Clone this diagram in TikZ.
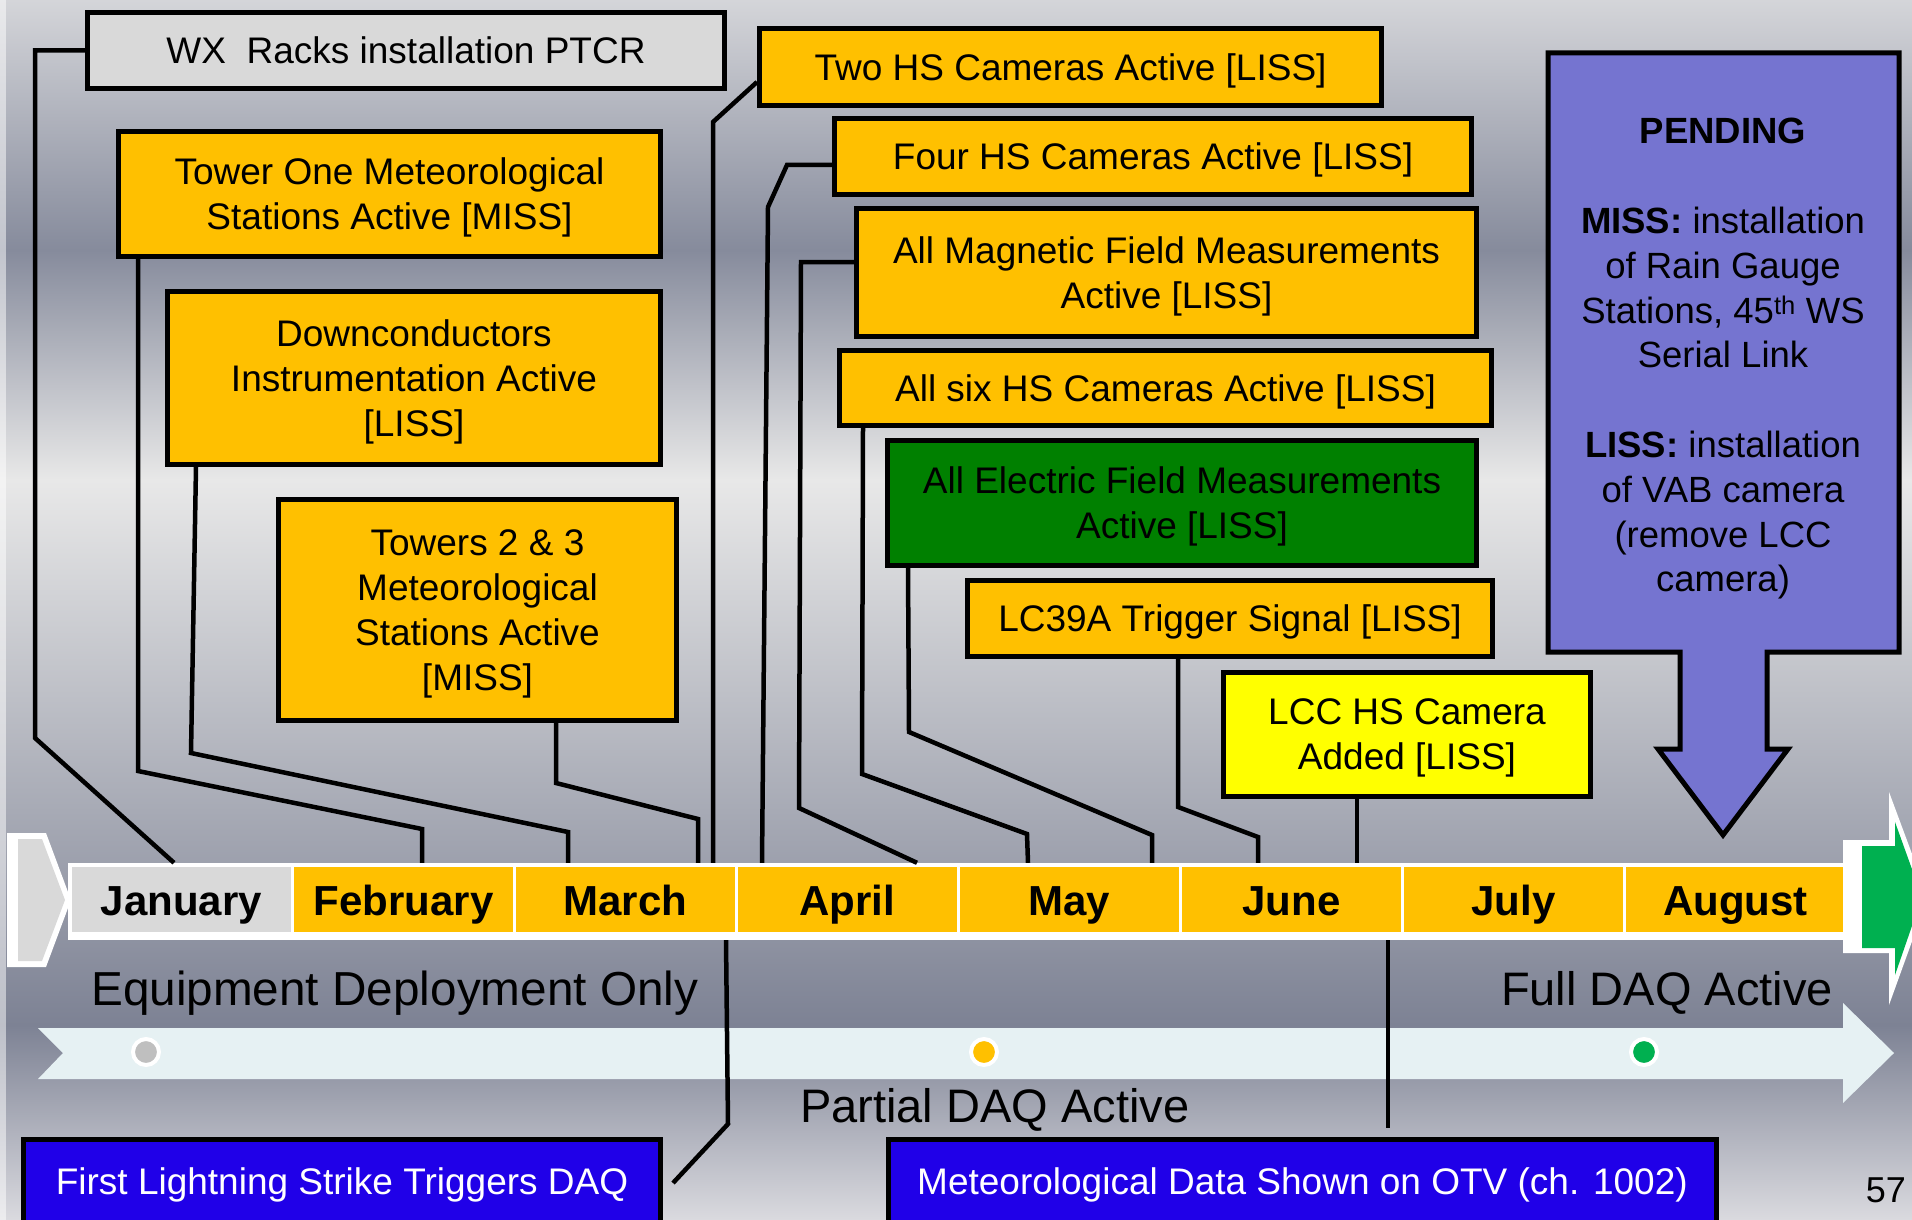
\documentclass[tikz,border=0pt]{standalone}
\usepackage{fontspec}
\setmainfont{Liberation Sans}
\usetikzlibrary{positioning,calc}
\definecolor{msorange}{RGB}{255,192,0}
\definecolor{msgray}{RGB}{217,217,217}
\definecolor{msdotgray}{RGB}{191,191,191}
\definecolor{msgreen}{RGB}{0,128,0}
\definecolor{msyellow}{RGB}{255,255,0}
\definecolor{mspurple}{RGB}{117,116,208}
\definecolor{msblue}{RGB}{32,0,232}
\definecolor{msband}{RGB}{230,241,243}
\definecolor{msdot}{RGB}{0,176,80}
\definecolor{bga}{RGB}{212,213,217}
\definecolor{bgb}{RGB}{134,139,156}
\definecolor{bgc}{RGB}{232,232,232}
\definecolor{bgd}{RGB}{125,130,148}
\definecolor{bge}{RGB}{218,218,223}
\tikzset{
  evt/.style={draw=black, line width=5pt, fill=msorange, align=center,
              inner sep=0pt, text depth=0pt, font=\fontsize{37}{45}\selectfont},
  mon/.style={minimum width=219pt, minimum height=65pt, inner sep=0pt,
              text height=31pt, text depth=0pt, font=\fontsize{42}{50}\selectfont\bfseries},
  conn/.style={black, line width=4.5pt},
  lbl/.style={inner sep=0pt, font=\fontsize{47}{56}\selectfont},
  dqdot/.style={circle, draw=white, line width=4pt, minimum size=26pt, inner sep=0pt},
}

\begin{document}
\begin{tikzpicture}[x=1pt, y=-1pt]
    \useasboundingbox (0,0) rectangle (1912,1220);
    \clip (0,0) rectangle (1912,1220);
    % background
    \shade[top color=bga, bottom color=bgb] (0,0) rectangle (1912,250);
    \shade[top color=bgb, bottom color=bgc] (0,250) rectangle (1912,480);
    \shade[top color=bgc, bottom color=bgd] (0,480) rectangle (1912,1025);
    \shade[top color=bgd, bottom color=bge] (0,1025) rectangle (1912,1220);
    \fill[white, opacity=0.5] (0,0) rectangle (6,1220);
    % left chevron
    \fill[white] (7,833) -- (46,833) -- (71,900) -- (46,967) -- (7,967) -- cycle;
    \fill[msgray] (18,839) -- (42,839) -- (65,900) -- (42,961) -- (18,961) -- cycle;
    % timeline band and phases
    \fill[msband] (38,1028) -- (1843,1028) -- (1843,1003) -- (1894,1053)
      -- (1843,1103) -- (1843,1079) -- (38,1079) -- (63,1053) -- cycle;
    \node[dqdot, fill=msdotgray] (ph1) at (146,1052) {};
    \node[dqdot, fill=msorange] (ph2) at (984,1052) {};
    \node[dqdot, fill=msdot] (ph3) at (1644,1052) {};
    \node[lbl, anchor=base west, font=\fontsize{47.7}{56}\selectfont] (eqdep) at (91,1005) {Equipment Deployment Only};
    \node[lbl, anchor=base west] (pdaq) at (800,1122) {Partial DAQ Active};
    \node[lbl, anchor=base east] (fdaq) at (1833,1005) {Full DAQ Active};
    % month bar
    \node[fill=white, minimum width=1780pt, minimum height=77pt, inner sep=0pt] (mbar) at (958,901.5) {};
    \foreach \m/\c [count=\i from 0] in {January/msgray, February/msorange, March/msorange,
        April/msorange, May/msorange, June/msorange, July/msorange, August/msorange}
      \node[mon, fill=\c] (m\i) at (181.5+222*\i, 899.5) {\m};
    % right arrow
    \fill[white] (1843,840) -- (1889,840) -- (1889,792) -- (1928,897)
      -- (1889,1005) -- (1889,953) -- (1843,953) -- cycle;
    \fill[msdot] (1862,846) -- (1895,846) -- (1895,822) -- (1922,897)
      -- (1895,975) -- (1895,948) -- (1862,948) -- cycle;
    % pending callout
    \draw[line width=5pt, fill=mspurple] (1548,53) -- (1899,53) -- (1899,652) -- (1767,652)
      -- (1767,749) -- (1788,749) -- (1723,835) -- (1658,749) -- (1680,749) -- (1680,652)
      -- (1548,652) -- cycle;
    \node[align=center, inner sep=0pt, font=\fontsize{36.5}{44.8}\selectfont] (pending) at (1723,359)
      {\textbf{PENDING}\\[44.8pt]
       \textbf{MISS:} installation\\
       of Rain Gauge\\
       Stations, 45\textsuperscript{th} WS\\
       Serial Link\\[44.8pt]
       \textbf{LISS:} installation\\
       of VAB camera\\
       (remove LCC\\
       camera)};
    % milestones
    \node[evt, fill=msgray, minimum width=637pt, minimum height=76pt] (wx) at (406,50.5) {WX\ \ Racks installation PTCR};
    \node[evt, minimum width=542pt, minimum height=125pt] (tower1) at (389.5,194) {Tower One Meteorological\\Stations Active [MISS]};
    \node[evt, minimum width=493pt, minimum height=173pt] (downc) at (414,378) {Downconductors\\Instrumentation Active\\{[LISS]}};
    \node[evt, minimum width=398pt, minimum height=221pt] (towers23) at (477.5,610) {Towers 2 \& 3\\Meteorological\\Stations Active\\{[MISS]}};
    \node[evt, minimum width=622pt, minimum height=77pt] (twohs) at (1070.5,67) {Two HS Cameras Active [LISS]};
    \node[evt, minimum width=637pt, minimum height=76pt] (fourhs) at (1153,156.5) {Four HS Cameras Active [LISS]};
    \node[evt, minimum width=620pt, minimum height=128pt] (magf) at (1166.5,272.5) {All Magnetic Field Measurements\\Active [LISS]};
    \node[evt, minimum width=652pt, minimum height=75pt] (sixhs) at (1165.5,388) {All six HS Cameras Active [LISS]};
    \node[evt, fill=msgreen, minimum width=589pt, minimum height=125pt] (elecf) at (1182,503) {All Electric Field Measurements\\Active [LISS]};
    \node[evt, minimum width=525pt, minimum height=76pt] (lc39a) at (1230,618.5) {LC39A Trigger Signal [LISS]};
    \node[evt, fill=msyellow, minimum width=367pt, minimum height=124pt] (lcchs) at (1407,734.5) {LCC HS Camera\\Added [LISS]};
    \node[evt, fill=msblue, text=white, minimum width=637pt, minimum height=84pt] (firstls) at (342,1181) {First Lightning Strike Triggers DAQ};
    \node[evt, fill=msblue, text=white, minimum width=828pt, minimum height=84pt] (metotv) at (1302.5,1181) {Meteorological Data Shown on OTV (ch. 1002)};
    % connectors to the months
    \draw[conn] (wx.west) -- (35,50.5) -- (35,738) -- (mbar.north -| 174,0);
    \draw[conn] (tower1.south -| 138,0) -- (138,771) -- (422,829) -- (mbar.north -| 422,0);
    \draw[conn] (downc.south -| 196,0) -- (191,753) -- (568,832) -- (mbar.north -| 568,0);
    \draw[conn] (towers23.south -| 556,0) -- (556,783) -- (698,819) -- (mbar.north -| 698,0);
    \draw[conn] (twohs.west |- 0,82) -- (713,122) -- (mbar.north -| 713,0);
    \draw[conn] (fourhs.west |- 0,165) -- (787,165) -- (768,207) -- (mbar.north -| 762,0);
    \draw[conn] (magf.west |- 0,262) -- (801,262) -- (799,808) -- (mbar.north -| 917,0);
    \draw[conn] (sixhs.south -| 863,0) -- (862,774) -- (1027,834) -- (mbar.north -| 1028,0);
    \draw[conn] (elecf.south -| 908,0) -- (909,732) -- (1152,835) -- (mbar.north -| 1152,0);
    \draw[conn] (lc39a.south -| 1178,0) -- (1178,807) -- (1258,837) -- (mbar.north -| 1258,0);
    \draw[conn] (lcchs.south -| 1357,0) -- (mbar.north -| 1357,0);
    \draw[conn] ([xshift=10pt]firstls.east |- 0,1183) -- (728,1124) -- (mbar.south -| 726,0);
    \coordinate (otvend) at (1388,1128);
    \draw[conn] (mbar.south -| otvend) -- (otvend);
    \node[inner sep=0pt, anchor=base east, font=\fontsize{36}{42}\selectfont] (pgno) at (1906,1202) {57};
  \end{tikzpicture}
\end{document}
